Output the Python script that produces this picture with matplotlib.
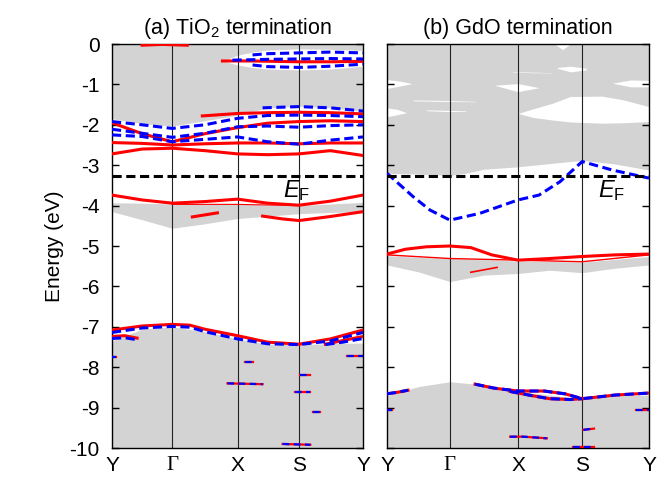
import matplotlib
matplotlib.use('Agg')
import matplotlib.pyplot as plt

plt.rcParams['font.family'] = ['Liberation Sans', 'DejaVu Sans']
plt.rcParams['mathtext.fontset'] = 'custom'
plt.rcParams['mathtext.rm'] = 'Liberation Sans'
plt.rcParams['mathtext.it'] = 'Liberation Sans:italic'

# high symmetry path
kpts = [0.0, 0.24, 0.5, 0.745, 1.0]
klabels = ['Y', 'Γ', 'X', 'S', 'Y']
e_fermi = -3.27
yticks = [0, -1, -2, -3, -4, -5, -6, -7, -8, -9, -10]

K9 = [0.0, 0.12, 0.24, 0.37, 0.5, 0.62, 0.745, 0.87, 1.0]

# ---------------- (a) TiO2 termination ----------------
# projected bulk bands (gray)
a_gray1_lo = [-1.85, -1.97, -2.03, -1.9, -1.76, -1.58, -1.54, -1.58, -1.66]
a_gray2_hi = [-3.93, -3.94, -3.96, -3.96, -3.96, -3.98, -4.0, -3.96, -3.92]
a_gray2_lo = [-4.15, -4.35, -4.56, -4.45, -4.32, -4.26, -4.2, -4.17, -4.15]
a_gray3_hi = [-7.35, -7.06, -7.0, -7.12, -7.3, -7.43, -7.44, -7.42, -7.4]
# white gap inside upper gray
a_gap_k = [0.44, 0.5, 0.56, 0.62, 0.745, 0.87, 1.0]
a_gap_hi = [-0.42, -0.28, -0.2, -0.15, -0.12, -0.13, -0.16]
a_gap_lo = [-0.42, -0.52, -0.58, -0.62, -0.64, -0.62, -0.55]

# surface bands, red (solid)
a_r1_k = [0.12, 0.2, 0.3]
a_r1_e = [-0.03, -0.01, -0.03]
a_r2_k = [0.44, 0.56, 0.745, 0.87, 1.0]
a_r2_e = [-0.42, -0.42, -0.44, -0.44, -0.43]
a_r3_k = [0.36, 0.5, 0.62, 0.745, 0.87, 1.0]
a_r3_e = [-1.78, -1.72, -1.7, -1.69, -1.7, -1.73]
a_r4_e = [-1.95, -2.22, -2.42, -2.22, -2.07, -1.96, -1.92, -1.9, -1.92]
a_r5_e = [-2.44, -2.46, -2.5, -2.47, -2.45, -2.45, -2.47, -2.45, -2.45]
a_r6_e = [-2.72, -2.6, -2.58, -2.64, -2.72, -2.74, -2.72, -2.64, -2.76]
a_r7_e = [-3.74, -3.86, -3.94, -3.9, -3.84, -3.94, -3.99, -3.89, -3.74]
a_r8_k = [0.6, 0.68, 0.745, 0.87, 1.0]
a_r8_e = [-4.26, -4.33, -4.37, -4.27, -4.15]
a_r9_k = [0.32, 0.42]
a_r9_e = [-4.28, -4.18]
a_r10_k = [0.0, 0.12, 0.24, 0.31, 0.37, 0.5, 0.62, 0.745, 0.87, 1.0]
a_r10_e = [-7.08, -6.98, -6.94, -6.96, -7.06, -7.22, -7.38, -7.43, -7.3, -7.08]
a_b10_e = [-7.14, -7.03, -6.99, -7.01, -7.12, -7.3, -7.42, -7.44, -7.35, -7.14]
a_r11_k = [0.0, 0.05, 0.1]
a_r11_e = [-7.24, -7.22, -7.28]
a_b11_e = [-7.29, -7.27, -7.32]
a_r12_k = [0.85, 0.92, 1.0]
a_r12_e = [-7.43, -7.34, -7.24]
a_b12_e = [-7.44, -7.38, -7.29]

# surface bands, blue (dashed)
a_b1_k = [0.56, 0.62, 0.745, 0.87, 1.0]
a_b1_e = [-0.27, -0.24, -0.22, -0.2, -0.22]
a_b2_k = [0.48, 0.62, 0.745, 0.87, 1.0]
a_b2_e = [-0.4, -0.38, -0.37, -0.36, -0.37]
a_b3_k = [0.56, 0.62, 0.745, 0.87, 1.0]
a_b3_e = [-0.52, -0.56, -0.58, -0.55, -0.5]
a_b4_k = [0.6, 0.745, 0.87, 1.0]
a_b4_e = [-1.58, -1.55, -1.58, -1.66]
a_b5_e = [-1.92, -2.0, -2.09, -2.0, -1.84, -1.77, -1.76, -1.77, -1.8]
a_b6_e = [-2.11, -2.21, -2.31, -2.21, -2.05, -2.03, -2.06, -2.02, -2.0]
a_b7_e = [-2.25, -2.29, -2.42, -2.36, -2.3, -2.42, -2.48, -2.38, -2.3]

# small resonances inside the lower gray
a_fleck_k = [[0.0, 0.015], [0.935, 1.0], [0.53, 0.56], [0.46, 0.6],
             [0.75, 0.79], [0.73, 0.79], [0.8, 0.83], [0.68, 0.79]]
a_fleck_e = [[-7.74, -7.74], [-7.72, -7.72], [-7.86, -7.86], [-8.4, -8.42],
             [-8.19, -8.19], [-8.62, -8.62], [-9.1, -9.1], [-9.9, -9.92]]

# ---------------- (b) GdO termination ----------------
b_gray1_k = [0.0, 0.12, 0.24, 0.3, 0.37, 0.5, 0.62, 0.745, 0.87, 1.0]
b_gray1_lo = [-3.2, -3.22, -3.25, -3.2, -3.1, -3.04, -2.96, -2.88, -2.97, -3.12]
# white gaps in the upper gray
b_gap_k = [[0.0, 0.05, 0.095], [0.0, 0.04, 0.075], [0.1, 0.2, 0.34],
           [0.15, 0.22, 0.3], [0.41, 0.5, 0.58], [0.48, 0.55, 0.63],
           [0.65, 0.7, 0.76], [0.64, 0.67, 0.7],
           [0.5, 0.56, 0.63, 0.7, 0.82, 0.9, 1.0], [0.86, 0.93, 1.0]]
b_gap_hi = [[-0.88, -0.92, -0.98], [-1.58, -1.62, -1.7], [-1.385, -1.395, -1.42],
            [-1.63, -1.64, -1.655], [-1.02, -0.98, -1.08], [-0.685, -0.695, -0.71],
            [-0.58, -0.55, -0.6], [0.0, 0.0, 0.0],
            [-1.72, -1.6, -1.47, -1.3, -1.29, -1.38, -1.55], [-0.97, -0.89, -0.9]]
b_gap_lo = [[-1.1, -1.04, -0.98], [-1.8, -1.75, -1.7], [-1.405, -1.42, -1.43],
            [-1.65, -1.67, -1.67], [-1.02, -1.18, -1.08], [-0.695, -0.71, -0.715],
            [-0.6, -0.69, -0.64], [0.0, -0.14, 0.0],
            [-1.72, -1.82, -1.88, -1.93, -1.96, -1.95, -1.92], [-0.97, -1.06, -1.06]]
b_gray2_hi = [-5.24, -5.28, -5.31, -5.34, -5.37, -5.38, -5.4, -5.33, -5.26]
b_gray2_lo = [-5.47, -5.64, -5.88, -5.72, -5.68, -5.6, -5.66, -5.55, -5.47]
b_gray3_hi = [-8.71, -8.48, -8.36, -8.44, -8.6, -8.69, -8.79, -8.71, -8.69]

b_b1_k = [0.0, 0.1, 0.164, 0.24, 0.355, 0.5, 0.58, 0.66, 0.745, 0.86, 1.0]
b_b1_e = [-3.2, -3.78, -4.11, -4.36, -4.19, -3.86, -3.74, -3.41, -2.91, -3.12, -3.32]
b_r1_k = [0.0, 0.07, 0.15, 0.24, 0.32, 0.4, 0.5, 0.62, 0.745, 0.87, 1.0]
b_r1_e = [-5.2, -5.08, -5.02, -5.0, -5.04, -5.22, -5.35, -5.31, -5.26, -5.22, -5.2]
b_r2_k = [0.0, 0.24, 0.5, 0.745, 1.0]
b_r2_e = [-5.22, -5.31, -5.35, -5.39, -5.22]
b_r3_k = [0.32, 0.42]
b_r3_e = [-5.65, -5.53]
b_r4_k = [0.0, 0.04, 0.08]
b_r4_e = [-8.66, -8.62, -8.57]
b_r5_k = [0.336, 0.41, 0.5, 0.6, 0.68, 0.745, 0.87, 1.0]
b_r5_e = [-8.42, -8.52, -8.59, -8.59, -8.66, -8.78, -8.69, -8.64]
b_r6_k = [0.47, 0.55, 0.62, 0.7, 0.745]
b_r6_e = [-8.6, -8.7, -8.78, -8.8, -8.78]

b_fleck_k = [[0.47, 0.52, 0.61], [0.95, 1.0], [0.0, 0.02], [0.75, 0.79], [0.71, 0.79]]
b_fleck_e = [[-9.72, -9.72, -9.76], [-9.06, -9.06], [-9.06, -9.06], [-9.55, -9.52], [-9.97, -9.97]]

GRAY = '#d3d3d3'
LW = 2.2
DASH = (3.0, 1.5)


def red(ax, k, e, lw=LW):
    ax.plot(k, e, color='red', lw=lw, zorder=3)


def blue(ax, k, e, lw=LW):
    ax.plot(k, e, color='blue', lw=lw, dashes=DASH, zorder=4)


def fleck(ax, k, e):
    ax.plot(k, e, color='red', lw=1.6, zorder=3)
    ax.plot(k, e, color='blue', lw=1.6, dashes=(3.0, 2.0), zorder=4)


def setup(ax, title):
    ax.set_xlim(0, 1)
    ax.set_ylim(-10, 0)
    for kp in kpts[1:-1]:
        ax.axvline(kp, color='#222222', lw=0.8, zorder=2.5)
    ax.axhline(e_fermi, color='black', lw=LW, dashes=DASH, zorder=6)
    ax.set_xticks(kpts)
    ax.set_xticklabels(klabels)
    ax.get_xticklabels()[1].set_fontfamily('Liberation Serif')
    ax.set_yticks(yticks)
    ax.tick_params(axis='y', direction='in', length=5, width=1, left=True, right=True,
                   labelsize=15, pad=9)
    ax.tick_params(axis='x', length=0, labelsize=15, pad=6)
    for s in ax.spines.values():
        s.set_linewidth(1.0)
    ax.set_title(title, fontsize=15.5, pad=7)


fig = plt.figure(figsize=(6.66, 4.82), dpi=100)
ax1 = fig.add_axes([112 / 666, 34 / 482, 251 / 666, 404 / 482])
ax2 = fig.add_axes([387 / 666, 34 / 482, 262 / 666, 404 / 482])

# ---- panel (a)
ax1.fill_between(K9, a_gray1_lo, 0, color=GRAY, lw=0, zorder=1)
ax1.fill_between(a_gap_k, a_gap_lo, a_gap_hi, color='white', lw=0, zorder=1.1)
ax1.fill_between(K9, a_gray2_lo, a_gray2_hi, color=GRAY, lw=0, zorder=1)
ax1.fill_between(K9, -10, a_gray3_hi, color=GRAY, lw=0, zorder=1)

red(ax1, a_r1_k, a_r1_e)
red(ax1, a_r2_k, a_r2_e)
red(ax1, a_r3_k, a_r3_e)
red(ax1, K9, a_r4_e)
red(ax1, K9, a_r5_e)
red(ax1, K9, a_r6_e)
red(ax1, K9, a_r7_e)
red(ax1, [0.24, 0.5, 0.745], [-3.97, -3.97, -4.0], lw=0.8)
red(ax1, a_r8_k, a_r8_e)
red(ax1, a_r9_k, a_r9_e)
red(ax1, a_r10_k, a_r10_e)
red(ax1, a_r11_k, a_r11_e)
red(ax1, a_r12_k, a_r12_e)
blue(ax1, a_r10_k, a_b10_e)
blue(ax1, a_r11_k, a_b11_e)
blue(ax1, a_r12_k, a_b12_e)
blue(ax1, a_b1_k, a_b1_e)
blue(ax1, a_b2_k, a_b2_e)
blue(ax1, a_b3_k, a_b3_e)
blue(ax1, a_b4_k, a_b4_e)
blue(ax1, K9, a_b5_e)
blue(ax1, K9, a_b6_e)
blue(ax1, K9, a_b7_e)
for k, e in zip(a_fleck_k, a_fleck_e):
    fleck(ax1, k, e)

setup(ax1, '(a) TiO$_2$ termination')
ax1.set_ylabel('Energy (eV)', fontsize=15, labelpad=4)
ax1.set_yticklabels([str(t) for t in yticks])
ax1.text(0.68, -3.62, r'$E_\mathrm{F}$', fontsize=17, ha='left', va='center', zorder=7)

# ---- panel (b)
ax2.fill_between(b_gray1_k, b_gray1_lo, 0, color=GRAY, lw=0, zorder=1)
for k, lo, hi in zip(b_gap_k, b_gap_lo, b_gap_hi):
    ax2.fill_between(k, lo, hi, color='white', lw=0, zorder=1.1)
ax2.fill_between(K9, b_gray2_lo, b_gray2_hi, color=GRAY, lw=0, zorder=1)
ax2.fill_between(K9, -10, b_gray3_hi, color=GRAY, lw=0, zorder=1)

blue(ax2, b_b1_k, b_b1_e)
red(ax2, b_r1_k, b_r1_e)
red(ax2, b_r2_k, b_r2_e, lw=1.0)
red(ax2, b_r3_k, b_r3_e, lw=1.2)
for k, e in [(b_r4_k, b_r4_e), (b_r5_k, b_r5_e), (b_r6_k, b_r6_e)]:
    red(ax2, k, e)
    blue(ax2, k, e)
for k, e in zip(b_fleck_k, b_fleck_e):
    fleck(ax2, k, e)

setup(ax2, '(b) GdO termination')
ax2.set_yticklabels([])
ax2.text(0.805, -3.62, r'$E_\mathrm{F}$', fontsize=17, ha='left', va='center', zorder=7)

fig.savefig('out.png', dpi=100)
